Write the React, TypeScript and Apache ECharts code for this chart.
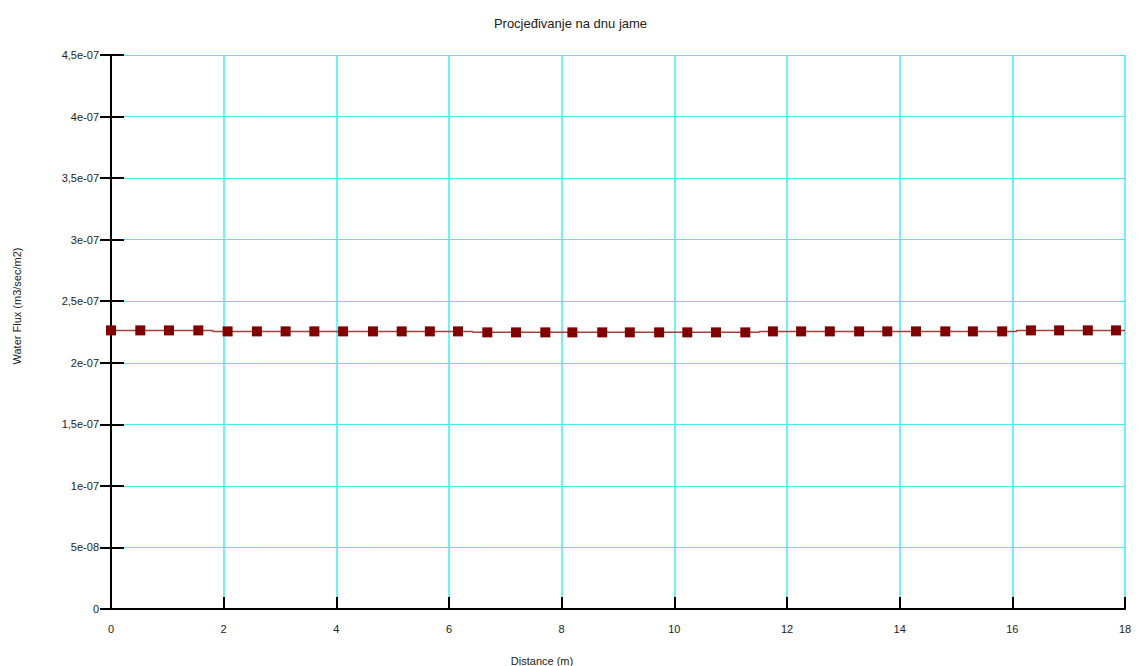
import React, { useEffect, useRef } from "react";
import * as echarts from "echarts";

const titleText = "Procjeđivanje na dnu jame";
const xAxisName = "Distance (m)";
const yAxisName = "Water Flux (m3/sec/m2)";

const distances = [
  0, 0.52, 1.03, 1.55, 2.07, 2.59, 3.1, 3.61, 4.12, 4.65, 5.16, 5.66, 6.16,
  6.68, 7.19, 7.71, 8.19, 8.72, 9.21, 9.73, 10.23, 10.74, 11.26, 11.75, 12.25,
  12.76, 13.28, 13.78, 14.29, 14.81, 15.3, 15.82, 16.33, 16.83, 17.34, 17.84,
];
const flux = [
  2.263e-7, 2.263e-7, 2.263e-7, 2.263e-7,
  2.255e-7, 2.255e-7, 2.255e-7, 2.255e-7, 2.255e-7, 2.255e-7, 2.255e-7, 2.255e-7, 2.255e-7,
  2.247e-7, 2.247e-7, 2.247e-7, 2.247e-7, 2.247e-7, 2.247e-7, 2.247e-7, 2.247e-7, 2.247e-7, 2.247e-7,
  2.255e-7, 2.255e-7, 2.255e-7, 2.255e-7, 2.255e-7, 2.255e-7, 2.255e-7, 2.255e-7, 2.255e-7,
  2.263e-7, 2.263e-7, 2.263e-7, 2.263e-7,
];
const lineEnd = [18, 2.263e-7];

const yTickLabels = [
  "0", "5e-08", "1e-07", "1,5e-07", "2e-07", "2,5e-07", "3e-07", "3,5e-07", "4e-07", "4,5e-07",
];
const yStep = 5e-8;
const yMax = 4.5e-7;
const xMax = 18;
const xStep = 2;

export default function App() {
  const ref = useRef<HTMLDivElement>(null);
  useEffect(() => {
    if (!ref.current) return;
    const chart = echarts.init(ref.current, null, { renderer: "svg" });
    const font = "'Liberation Sans', Arial, sans-serif";
    const points: any[] = distances.map((d, i) => [d, flux[i]]);
    points.push({ value: lineEnd, symbol: "none" });
    const yLabel = (v: number) => {
      const idx = Math.round(v / yStep);
      return yTickLabels[idx] ?? "";
    };
    chart.setOption({
      animation: false,
      backgroundColor: "#ffffff",
      textStyle: { fontFamily: font },
      title: {
        text: titleText,
        left: "center",
        top: 12,
        textStyle: { fontFamily: font, fontSize: 13, fontWeight: "normal", color: "#222" },
      },
      grid: { left: 111, right: 16, top: 55, bottom: 57, containLabel: false },
      xAxis: {
        type: "value",
        min: 0,
        max: xMax,
        interval: xStep,
        axisLine: { show: true, onZero: false, lineStyle: { color: "#000", width: 2 } },
        axisTick: { show: true, inside: true, length: 12, lineStyle: { color: "#000", width: 2 } },
        axisLabel: { margin: 14, fontSize: 11, color: "#222", fontFamily: font },
        splitLine: { show: true, lineStyle: { color: "#44eeee", width: 1.5 } },
      },
      yAxis: [
        {
          type: "value",
          min: 0,
          max: yMax,
          interval: yStep,
          axisLine: { show: true, onZero: false, lineStyle: { color: "#000", width: 2 } },
          axisTick: { show: true, inside: false, length: 11, lineStyle: { color: "#000", width: 2 } },
          axisLabel: { margin: 12, fontSize: 11, color: "#222", fontFamily: font, formatter: yLabel },
          splitLine: { show: true, lineStyle: { color: "#44eeee", width: 1 } },
        },
        {
          type: "value",
          position: "left",
          offset: 0,
          min: 0,
          max: yMax,
          interval: yStep,
          axisLine: { show: false },
          axisTick: { show: true, inside: true, length: 13, lineStyle: { color: "#000", width: 2 } },
          axisLabel: { show: false },
          splitLine: { show: false },
        },
      ],
      graphic: [
        {
          type: "text",
          x: 542,
          y: 661,
          style: { text: xAxisName, fontSize: 11, fill: "#222", fontFamily: font, align: "center", verticalAlign: "middle" },
        },
        {
          type: "text",
          x: 17,
          y: 306,
          rotation: Math.PI / 2,
          style: { text: yAxisName, fontSize: 11, fill: "#222", fontFamily: font, align: "center", verticalAlign: "middle" },
        },
      ],
      series: [
        {
          type: "line",
          yAxisIndex: 0,
          data: points,
          step: "middle",
          symbol: "rect",
          symbolSize: 10,
          itemStyle: { color: "#800000" },
          lineStyle: { color: "#a83c3c", width: 1.5 },
        },
      ],
    });
    return () => chart.dispose();
  }, []);
  return (
    <div
      ref={ref}
      style={{ position: "fixed", left: 0, top: 0, width: 1141, height: 666 }}
    />
  );
}
